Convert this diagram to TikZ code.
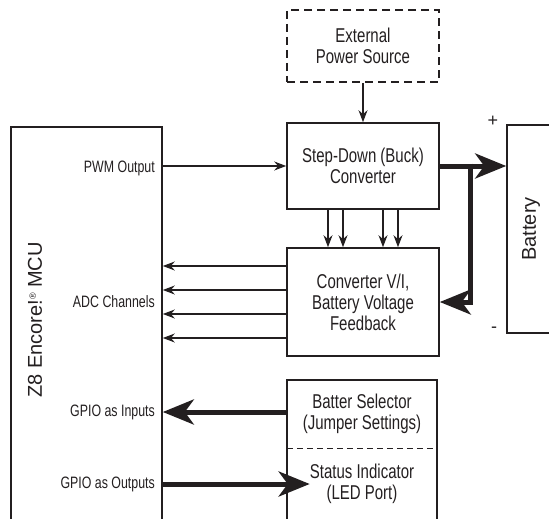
\documentclass[tikz,border=0pt]{standalone}
\usepackage{fontspec}
\setmainfont{Liberation Sans}
\newfontfamily\narrowfont{Liberation Sans}[FakeStretch=0.75]
\usetikzlibrary{arrows.meta}
\definecolor{ink}{HTML}{231F20}
\tikzstyle{every node}=[font=\narrowfont\fontsize{20}{21}\selectfont,text=ink]
\tikzstyle{block}=[draw,line width=1.6pt,align=center,inner sep=0pt]
\tikzstyle{port}=[font=\narrowfont\fontsize{16.5}{17}\selectfont,anchor=east,inner sep=0pt]
\tikzstyle{thin}=[line width=1.2pt,-{Stealth[length=12pt,width=9pt]}]
\tikzstyle{fat}=[line width=5pt,-{Stealth[length=31pt,width=25pt,inset=9pt]}]

\begin{document}
\begin{tikzpicture}[x=1pt,y=-1pt,color=ink]
  \useasboundingbox (0,0) rectangle (549,519);
    % blocks
    \node[block,minimum width=151pt,minimum height=413pt] (mcu) at (86.5,333.5) {};
    \node[rotate=90,font=\fontsize{20}{22}\selectfont] (mcuname) at (35,320) {Z8 Encore!{\fontsize{9}{9}\selectfont\raisebox{6pt}{\textregistered}} MCU};
    \node[block,dash pattern=on 8pt off 5pt,minimum width=152pt,minimum height=72pt] (ext) at (363,46) {External\\Power Source};
    \node[block,minimum width=152pt,minimum height=86pt] (buck) at (363,166) {Step-Down (Buck)\\Converter};
    \node[block,minimum width=152pt,minimum height=108pt] (fb) at (363,302) {Converter V/I,\\Battery Voltage\\Feedback};
    \node[block,minimum width=53pt,minimum height=208pt] (batt) at (533.5,229) {};
    \node[rotate=90,font=\fontsize{20}{22}\selectfont] (battname) at (531,229) {Battery};
    \node[font=\fontsize{18}{18}\selectfont] (plus) at (493,121) {+};
    \node[font=\fontsize{18}{18}\selectfont] (minus) at (494,330) {-};
    \node[block,minimum width=150pt,minimum height=160pt] (ind) at (362,460) {};
    \node[align=center,minimum width=150pt,minimum height=68pt,inner sep=0pt] (sel) at (362,414) {Batter Selector\\(Jumper Settings)};
    \node[align=center,inner sep=0pt] (led) at (362,484) {Status Indicator\\(LED Port)};
    \draw[line width=1.4pt,dash pattern=on 6pt off 4pt] (sel.south west) -- (sel.south east);
    % port labels
    \node[port] (pwm) at (155,168) {PWM Output};
    \node[port] (adc) at (155,302) {ADC Channels};
    \node[port] (gin) at (155,412) {GPIO as Inputs};
    \node[port] (gout) at (155,484) {GPIO as Outputs};
    % power path
    \draw[thin] (ext) -- (buck);
    \draw[thin] (mcu.east |- buck.west) -- (buck.west);
    \draw[fat] (buck.east) -- (batt.west |- buck.east);
    \coordinate (tap) at (470,163.5);
    \draw[fat] (tap) |- (fb.east);
    % feedback signals
      \def\SENSE{328,343,383,398}
      \foreach \x in \SENSE {
      \draw[thin] (\x,0 |- buck.south) -- (\x,0 |- fb.north);
      }
      \def\ADC{266,290,314,338}
      \foreach \y in \ADC {
      \draw[thin] (fb.west |- 0,\y) -- (mcu.east |- 0,\y);
      }
    % gpio
    \draw[fat] (sel.west |- gin.east) -- (mcu.east |- gin.east);
    \draw[fat] (mcu.east |- gout.east) -- (led.west |- gout.east);
  \end{tikzpicture}
\end{document}
